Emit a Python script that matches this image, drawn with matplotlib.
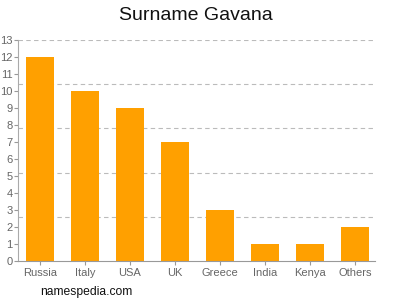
import matplotlib.pyplot as plt

plt.rcParams['font.family'] = ['Liberation Sans', 'DejaVu Sans']

countries = ['Russia', 'Italy', 'USA', 'UK', 'Greece', 'India', 'Kenya', 'Others']
counts = [12, 10, 9, 7, 3, 1, 1, 2]
yticks = list(range(0, 14))
grid_levels = [2.6, 5.2, 7.8, 10.4, 13]

fig = plt.figure(figsize=(4, 3), dpi=100)
ax = fig.add_axes([0.045, 0.13, 0.8925, 0.7367])

ax.bar(range(len(countries)), counts, width=0.62, color='#ffa000', zorder=2)

for g in grid_levels:
    ax.axhline(g, color='#bbbbbb', lw=0.8, ls=(0, (4, 3)), zorder=1)

ax.set_xlim(-0.49, 7.45)
ax.set_ylim(0, 13)
ax.set_yticks(yticks)
ax.set_xticks(range(len(countries)))
ax.set_xticklabels(countries)
ax.tick_params(colors='#999999', labelcolor='#666666', labelsize=8, length=3, width=0.8, pad=1)
ax.tick_params(axis='x', pad=2)

for side in ['top', 'right']:
    ax.spines[side].set_visible(False)
ax.spines['left'].set_color('#aaaaaa')
ax.spines['bottom'].set_color('#999999')

fig.text(0.49, 0.95, 'Surname Gavana', ha='center', va='center', fontsize=14, color='#111111')
fig.text(0.1, 0.028, 'namespedia.com', ha='left', va='center', fontsize=8.7, color='#111111')

fig.savefig('out.png')
